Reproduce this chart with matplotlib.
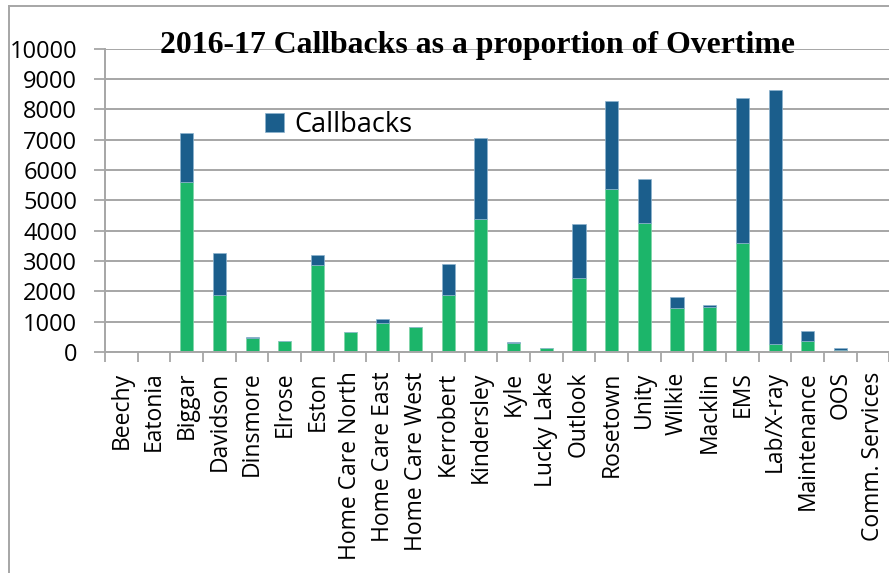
import matplotlib.pyplot as plt
from matplotlib.lines import Line2D
import numpy as np

# 2016-17 overtime and callback hours by site
sites = ['Beechy', 'Eatonia', 'Biggar', 'Davidson', 'Dinsmore', 'Elrose', 'Eston',
         'Home Care North', 'Home Care East', 'Home Care West', 'Kerrobert', 'Kindersley',
         'Kyle', 'Lucky Lake', 'Outlook', 'Rosetown', 'Unity', 'Wilkie', 'Macklin', 'EMS',
         'Lab/X-ray', 'Maintenance', 'OOS', 'Comm. Services']
overtime = [0, 0, 5610, 1880, 460, 350, 2860, 650, 970, 810, 1880, 4380,
            310, 140, 2430, 5390, 4250, 1440, 1490, 3590, 260, 350, 70, 0]
callbacks = [0, 0, 1620, 1370, 40, 0, 340, 15, 110, 0, 1020, 2690,
             35, 0, 1800, 2900, 1470, 360, 50, 4780, 8380, 330, 60, 0]

green = '#1CB56A'
blue = '#1B5E8C'
grid_col = '#A6A6A6'

plt.rcParams['font.family'] = 'Open Sans'

fig = plt.figure(figsize=(8.89, 5.73), dpi=100)
ax = fig.add_axes([105/889, 221/573, 784.5/889, 303.3/573])

x = np.arange(len(sites))
ax.bar(x, overtime, width=0.4, color=green, edgecolor='#7FD6A8', linewidth=0.5, zorder=3)
cb = ax.bar(x, callbacks, width=0.4, bottom=overtime, color=blue, edgecolor='#8DB3CF',
            linewidth=0.5, zorder=3, label='Callbacks')

ax.set_xlim(-0.5, len(sites) - 0.5)
ax.set_ylim(0, 10000)
ax.set_yticks(range(0, 10001, 1000))
ax.tick_params(axis='y', labelsize=17, length=8, width=1.3, color=grid_col, pad=12)
ax.yaxis.grid(True, color=grid_col, linewidth=1.4, zorder=0)

# category labels sit between boundary ticks
ax.set_xticks(x)
ax.set_xticklabels(sites, rotation=90, fontsize=16.5)
ax.tick_params(axis='x', length=0, pad=14)
ax.set_xticks(np.arange(-0.5, len(sites)), minor=True)
ax.tick_params(axis='x', which='minor', length=7, width=1.3, color=grid_col)

for s in ['top', 'right']:
    ax.spines[s].set_visible(False)
for s in ['left', 'bottom']:
    ax.spines[s].set_color(grid_col)
    ax.spines[s].set_linewidth(1.4)
    ax.spines[s].set_zorder(4)

ax.legend(handles=[cb], loc='center left', bbox_to_anchor=(160/784.5, (352-125)/303.3),
          frameon=False, fontsize=19.5, handlelength=0.7, handleheight=0.7,
          handletextpad=0.4, borderpad=0, borderaxespad=0)

fig.text(477/889, 1 - 46/573, '2016-17 Callbacks as a proportion of Overtime',
         family='Liberation Serif', weight='bold', fontsize=22.9,
         ha='center', va='center', zorder=10)

# outer chart frame
fig.add_artist(Line2D([9/889, 9/889], [0, 1 - 6/573], color=grid_col, linewidth=1.4))
fig.add_artist(Line2D([9/889, 1], [1 - 6/573, 1 - 6/573], color=grid_col, linewidth=1.4))

fig.savefig('out.png', dpi=100)
